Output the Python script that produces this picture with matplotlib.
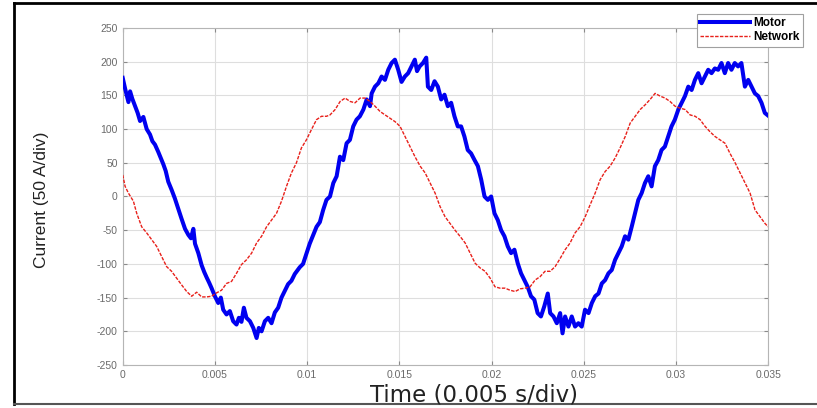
import matplotlib
matplotlib.use("Agg")
import matplotlib.pyplot as plt
from matplotlib.lines import Line2D
import numpy as np

# values (time in ms, current in A)
motor_t_ms = [
    0.00, 0.13, 0.22, 0.31, 0.40, 0.52, 0.67, 0.81, 0.94, 1.12, 1.30, 1.48, 1.61, 1.75,
    1.93, 2.08, 2.20, 2.33, 2.47, 2.65, 2.83, 3.01, 3.19, 3.38, 3.56, 3.70, 3.83, 3.92,
    4.10, 4.28, 4.42, 4.55, 4.69, 4.82, 5.00, 5.18, 5.32, 5.45, 5.63, 5.81, 5.99, 6.17,
    6.30, 6.44, 6.57, 6.71, 6.90, 7.08, 7.26, 7.38, 7.53, 7.71, 7.89, 8.07, 8.25, 8.43,
    8.61, 8.79, 8.97, 9.15, 9.33, 9.60, 9.78, 9.96, 10.14, 10.32, 10.51, 10.69, 10.87,
    11.05, 11.24, 11.42, 11.60, 11.78, 11.96, 12.14, 12.32, 12.50, 12.68, 12.86, 13.05,
    13.23, 13.41, 13.50, 13.68, 13.86, 14.04, 14.22, 14.40, 14.58, 14.76, 14.94, 15.12,
    15.30, 15.48, 15.66, 15.84, 15.96, 16.10, 16.28, 16.46, 16.55, 16.73, 16.91, 17.09,
    17.27, 17.45, 17.63, 17.81, 17.99, 18.17, 18.35, 18.53, 18.71, 18.89, 19.08, 19.26,
    19.44, 19.62, 19.80, 19.98, 20.16, 20.34, 20.52, 20.70, 20.88, 21.06, 21.24, 21.42,
    21.60, 21.78, 21.96, 22.14, 22.32, 22.50, 22.68, 22.86, 23.05, 23.18, 23.36, 23.54,
    23.72, 23.85, 23.99, 24.17, 24.35, 24.53, 24.71, 24.89, 25.07, 25.26, 25.44, 25.62,
    25.80, 25.98, 26.16, 26.34, 26.52, 26.70, 26.88, 27.06, 27.24, 27.42, 27.60, 27.78,
    27.96, 28.14, 28.32, 28.50, 28.68, 28.86, 29.04, 29.22, 29.40, 29.58, 29.76, 29.94,
    30.13, 30.31, 30.49, 30.67, 30.85, 31.03, 31.21, 31.39, 31.57, 31.75, 31.93, 32.11,
    32.29, 32.47, 32.65, 32.83, 33.01, 33.19, 33.37, 33.55, 33.74, 33.92, 34.10, 34.28,
    34.46, 34.64, 34.82, 35.00,
]
motor_a = [
    176, 160, 150, 140, 156, 145, 134, 124, 112, 118, 100, 92, 82, 77,
    66, 56, 48, 38, 22, 10, -3, -18, -33, -48, -57, -62, -48, -70,
    -84, -102, -112, -120, -128, -136, -148, -158, -150, -168, -175, -170, -185, -190,
    -180, -186, -165, -180, -185, -195, -210, -195, -200, -185, -180, -188, -172, -165,
    -150, -140, -130, -125, -115, -105, -100, -85, -70, -58, -45, -38, -20,
    -5, 0, 20, 30, 59, 54, 79, 84, 104, 114, 119, 129,
    144, 134, 153, 163, 168, 178, 173, 188, 198, 203, 188, 170,
    178, 183, 193, 203, 186, 193, 198, 206, 163, 158, 171, 163,
    144, 151, 134, 139, 119, 104, 104, 89, 69, 64, 54, 45,
    25, 0, -5, 0, -25, -35, -50, -59, -74, -84, -79, -99,
    -114, -124, -134, -148, -153, -173, -178, -163, -144, -173, -178, -188,
    -173, -203, -178, -193, -178, -193, -188, -193, -168, -173, -158, -148,
    -144, -129, -124, -114, -109, -94, -84, -74, -59, -64, -45, -25,
    -5, 5, 20, 30, 15, 45, 54, 69, 74, 89, 104, 114,
    129, 139, 149, 163, 158, 173, 183, 168, 178, 188, 183, 190,
    188, 198, 183, 198, 188, 198, 193, 198, 163, 173, 163, 153,
    149, 139, 124, 120,
]

network_t_ms = [
    0.00, 0.13, 0.31, 0.58, 0.76, 1.03, 1.30, 1.57, 1.84, 2.11, 2.38, 2.65, 2.92, 3.19,
    3.47, 3.74, 4.01, 4.28, 4.55, 4.82, 5.09, 5.36, 5.63, 5.90, 6.17, 6.44, 6.71, 6.99,
    7.26, 7.53, 7.80, 8.07, 8.34, 8.61, 8.88, 9.15, 9.42, 9.69, 9.96, 10.23, 10.51,
    10.78, 11.05, 11.24, 11.52, 11.79, 12.06, 12.33, 12.60, 12.87, 13.14, 13.41, 13.68,
    13.96, 14.23, 14.50, 14.77, 15.04, 15.31, 15.58, 15.85, 16.13, 16.40, 16.67, 16.94,
    17.21, 17.48, 17.75, 18.02, 18.29, 18.57, 18.84, 19.11, 19.38, 19.65, 19.92, 20.19,
    20.46, 20.73, 21.00, 21.28, 21.55, 21.82, 22.09, 22.36, 22.63, 22.90, 23.18, 23.45,
    23.72, 23.99, 24.26, 24.53, 24.80, 25.08, 25.35, 25.62, 25.89, 26.16, 26.43, 26.70,
    26.97, 27.25, 27.52, 27.79, 28.06, 28.33, 28.60, 28.87, 29.14, 29.41, 29.68, 29.95,
    30.23, 30.50, 30.77, 31.04, 31.31, 31.58, 31.85, 32.12, 32.39, 32.66, 32.93, 33.21,
    33.48, 33.75, 34.02, 34.29, 34.56, 34.83, 35.00,
]
network_a = [
    32, 15, 5, -7, -25, -45, -54, -64, -74, -89, -104, -111, -121, -131,
    -141, -148, -142, -149, -149, -148, -143, -139, -129, -126, -114, -101, -94, -84,
    -69, -59, -45, -35, -25, -7, 15, 35, 50, 72, 84, 99, 114,
    119, 119, 121, 129, 141, 146, 141, 139, 146, 146, 141, 134,
    126, 121, 116, 111, 104, 89, 74, 59, 45, 35, 20, 5,
    -15, -30, -40, -50, -59, -69, -84, -99, -106, -111, -121, -134,
    -136, -136, -139, -141, -137, -136, -134, -124, -119, -111, -111, -104,
    -92, -79, -69, -54, -45, -30, -12, 5, 25, 37, 45, 57,
    72, 89, 109, 119, 129, 136, 144, 153, 149, 146, 141, 134,
    131, 129, 121, 119, 114, 104, 96, 89, 84, 79, 64, 50,
    35, 20, 5, -20, -30, -40, -45,
]

x_ticks = [0, 0.005, 0.01, 0.015, 0.02, 0.025, 0.03, 0.035]
x_tick_labels = ["0", "0.005", "0.01", "0.015", "0.02", "0.025", "0.03", "0.035"]
y_ticks = list(range(-250, 251, 50))

plt.rcParams["axes.unicode_minus"] = False
plt.rcParams["font.family"] = ["Liberation Sans", "DejaVu Sans"]

fig = plt.figure(figsize=(8.17, 4.08), dpi=100)
ax = fig.add_axes([0.1502, 0.1054, 0.790, 0.826])

ax.plot(np.array(motor_t_ms) / 1000, motor_a, color="#0000f0", lw=2.9, label="Motor", zorder=3)
ax.plot(np.array(network_t_ms) / 1000, network_a, color="#e8201a", lw=1.0,
        ls=(0, (2.5, 1)), label="Network", zorder=4)

ax.set_xlim(0, 0.035)
ax.set_ylim(-250, 250)
ax.set_xticks(x_ticks)
ax.set_xticklabels(x_tick_labels)
ax.set_yticks(y_ticks)
ax.grid(True, color="#dedede", lw=0.8)
ax.set_axisbelow(True)
ax.tick_params(direction="in", length=3, colors="#8a8a8a", labelsize=7.5,
               top=True, right=True, labelcolor="#6a6a6a")
for s in ax.spines.values():
    s.set_color("#b5b5b5")
    s.set_linewidth(0.8)

fig.text(42 / 817, 1 - 200 / 408, "Current (50 A/div)", rotation=90, fontsize=12.5,
         color="#222222", ha="center", va="center")
fig.text(473.5 / 817, 0.032, "Time (0.005 s/div)", fontsize=16.5, color="#222222",
         family=["DejaVu Sans"], ha="center", va="center")

leg = fig.legend(loc="upper right", bbox_to_anchor=(0.983, 0.966),
                 prop={"weight": "bold", "size": 8.5}, fancybox=False, framealpha=1,
                 edgecolor="#a0a0a0", handlelength=4.2, borderpad=0.3,
                 labelspacing=0.15, handletextpad=0.3, borderaxespad=0)
leg.get_frame().set_linewidth(0.8)

# outer frame of the screenshot
fig.add_artist(Line2D([14 / 817, 1], [1 - 3 / 408, 1 - 3 / 408], color="black", lw=2))
fig.add_artist(Line2D([14 / 817, 14 / 817], [1 - 3 / 408, 1 - 404 / 408], color="black", lw=2))
fig.add_artist(Line2D([14 / 817, 1], [1 - 404 / 408, 1 - 404 / 408], color="#555555", lw=1.5))

fig.savefig("out.png", dpi=100)
